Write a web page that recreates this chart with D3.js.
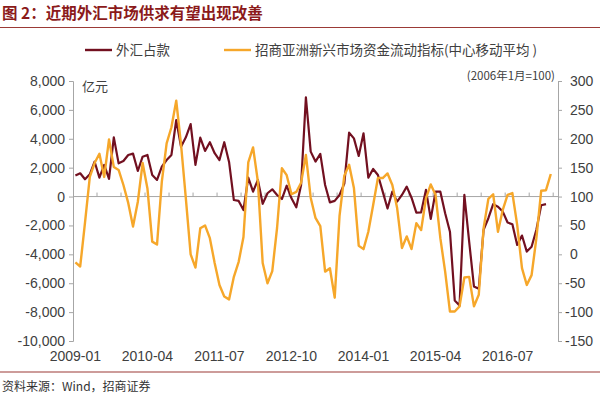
<!DOCTYPE html>
<html><head><meta charset="utf-8">
<script src="https://cdn.jsdelivr.net/npm/d3@7/dist/d3.min.js"></script>
<style>
html,body{margin:0;padding:0;background:#fff;}
svg{display:block;}
</style></head>
<body>
<svg id="c" width="600" height="397"></svg>
<script>
const categories = [
"2009-01","2009-02","2009-03","2009-04","2009-05","2009-06","2009-07","2009-08","2009-09","2009-10","2009-11","2009-12",
"2010-01","2010-02","2010-03","2010-04","2010-05","2010-06","2010-07","2010-08","2010-09","2010-10","2010-11","2010-12",
"2011-01","2011-02","2011-03","2011-04","2011-05","2011-06","2011-07","2011-08","2011-09","2011-10","2011-11","2011-12",
"2012-01","2012-02","2012-03","2012-04","2012-05","2012-06","2012-07","2012-08","2012-09","2012-10","2012-11","2012-12",
"2013-01","2013-02","2013-03","2013-04","2013-05","2013-06","2013-07","2013-08","2013-09","2013-10","2013-11","2013-12",
"2014-01","2014-02","2014-03","2014-04","2014-05","2014-06","2014-07","2014-08","2014-09","2014-10","2014-11","2014-12",
"2015-01","2015-02","2015-03","2015-04","2015-05","2015-06","2015-07","2015-08","2015-09","2015-10","2015-11","2015-12",
"2016-01","2016-02","2016-03","2016-04","2016-05","2016-06","2016-07","2016-08","2016-09","2016-10","2016-11","2016-12",
"2017-01","2017-02","2017-03","2017-04","2017-05"];

// 外汇占款 (亿元), left axis
const fxFunds = [
1450,1610,1200,1540,2410,1310,2190,1220,4100,2300,2460,2880,
2970,1770,2760,2880,1490,1150,2070,2530,2880,5300,3450,4100,
5020,2190,4080,3160,3760,3000,2530,3760,2400,-240,-300,-930,
1310,340,1150,-500,230,500,110,-170,750,-120,-740,800,
6870,3110,2420,2950,800,-400,-300,110,900,4420,4030,2810,
4380,1310,1910,1490,340,-830,340,-350,110,690,-80,-1110,
-1090,460,-1550,340,340,-1160,-2430,-7200,-7550,110,-3120,-6230,
-6390,-2310,-1500,-530,-700,-1040,-1800,-1920,-3350,-2700,-3810,-3470,
-2300,-600,-520];

// 招商亚洲新兴市场资金流动指标 (2006年1月=100), right axis
const emIndex = [
-14,-21,55,134,158,174,134,199,151,146,120,89,
48,91,158,114,22,17,126,192,220,266,190,97,
0,-23,45,50,28,-15,-53,-73,-78,-39,-13,30,
159,185,126,-15,-50,-29,46,149,137,104,108,124,
172,98,63,49,-30,-24,-75,66,136,155,115,15,
9,39,85,132,132,140,120,80,11,31,9,54,
42,97,121,103,28,-30,-99,-99,-90,-40,-39,-90,
-70,45,96,104,39,77,103,106,51,-24,-53,-36,
28,110,111,139];

const leftTicks = [8000,6000,4000,2000,0,-2000,-4000,-6000,-8000,-10000];
const rightTicks = [300,250,200,150,100,50,0,-50,-100,-150];
const xLabels = ["2009-01","2010-04","2011-07","2012-10","2014-01","2015-04","2016-07"];
const seriesNames = ["外汇占款","招商亚洲新兴市场资金流动指标(中心移动平均 )"];

const svg = d3.select("#c");
const W = 600, H = 397;
const plot = {left:73, right:558, top:81, bottom:341};
const maroon = "#721020", orange = "#F6A72A";
const txt = "#404040";
const loc = d3.formatLocale({decimal:".", thousands:",", grouping:[3], currency:["",""], minus:"-"});
const fmt = loc.format(",");

// title
svg.append("text").attr("x",2).attr("y",19)
  .attr("font-family","'Noto Sans CJK SC', sans-serif").attr("font-weight","bold")
  .attr("font-size",15.5).attr("fill","#8B1A1A")
  .text("图 2：近期外汇市场供求有望出现改善");
svg.append("line").attr("x1",0).attr("x2",W).attr("y1",27.5).attr("y2",27.5)
  .attr("stroke","#9B3A36").attr("stroke-width",1.2);
svg.append("line").attr("x1",0).attr("x2",W).attr("y1",372).attr("y2",372)
  .attr("stroke","#9B3A36").attr("stroke-width",1.2);
svg.append("text").attr("x",2).attr("y",391)
  .attr("font-family","'Noto Sans CJK SC', sans-serif")
  .attr("font-size",12).attr("fill","#333")
  .text("资料来源：Wind，招商证券");

// scales
const x = d3.scaleBand().domain(categories).range([plot.left, plot.right]).paddingInner(0).paddingOuter(0);
const bw = x.bandwidth();
const cx = c => x(c) + bw/2;
const yL = d3.scaleLinear().domain([-10000, 8000]).range([plot.bottom, plot.top]);
const yR = d3.scaleLinear().domain([-150, 300]).range([plot.bottom, plot.top]);

// left axis
const gL = svg.append("g").attr("transform",`translate(${plot.left},0)`)
  .call(d3.axisLeft(yL).tickValues(leftTicks).tickFormat(fmt).tickSize(4).tickPadding(4));
gL.select(".domain").attr("stroke","#A6A6A6");
gL.selectAll(".tick line").attr("stroke","#A6A6A6");
gL.selectAll("text").attr("font-family","'Liberation Sans', Arial, sans-serif")
  .attr("font-size",14).attr("fill",txt);

// right axis
const gR = svg.append("g").attr("transform",`translate(${plot.right},0)`)
  .call(d3.axisRight(yR).tickValues(rightTicks).tickFormat(fmt).tickSize(4).tickPadding(8));
gR.select(".domain").attr("stroke","#A6A6A6");
gR.selectAll(".tick line").attr("stroke","#A6A6A6");
gR.selectAll("text").attr("font-family","'Liberation Sans', Arial, sans-serif")
  .attr("font-size",14).attr("fill",txt)
  .attr("dx", d => d < 0 ? -5 : 0);

// zero line (category axis)
svg.append("line").attr("x1",plot.left).attr("x2",plot.right)
  .attr("y1",yL(0)).attr("y2",yL(0)).attr("stroke","#A6A6A6").attr("stroke-width",1);
const tickCats = categories.filter((c,i)=> i>0 && i%5===0);
svg.append("g").selectAll("line").data(tickCats).join("line")
  .attr("x1",d=>x(d)).attr("x2",d=>x(d))
  .attr("y1",yL(0)).attr("y2",yL(0)-4).attr("stroke","#A6A6A6");
svg.append("g").selectAll("text").data(xLabels).join("text")
  .attr("x",d=>cx(d)).attr("y",361).attr("text-anchor","middle")
  .attr("font-family","'Liberation Sans', Arial, sans-serif")
  .attr("font-size",14).attr("fill",txt).text(d=>d);

// unit labels
svg.append("text").attr("x",82).attr("y",91)
  .attr("font-family","'Noto Sans CJK SC', sans-serif").attr("font-size",13).attr("fill",txt).text("亿元");
svg.append("text").attr("x",555).attr("y",80).attr("text-anchor","end")
  .attr("font-family","'Noto Sans CJK SC', sans-serif").attr("font-size",11.5).attr("fill",txt).text("(2006年1月=100)");

// lines
const lineL = d3.line().x((d,i)=>cx(categories[i])).y(d=>yL(d));
const lineR = d3.line().x((d,i)=>cx(categories[i])).y(d=>yR(d));
svg.append("path").datum(fxFunds).attr("d",lineL).attr("fill","none")
  .attr("stroke",maroon).attr("stroke-width",2.2).attr("stroke-linejoin","round");
svg.append("path").datum(emIndex).attr("d",lineR).attr("fill","none")
  .attr("stroke",orange).attr("stroke-width",2.4).attr("stroke-linejoin","round");

// legend
const leg = [{name:seriesNames[0], color:maroon, x:85},{name:seriesNames[1], color:orange, x:224}];
const lg = svg.append("g").selectAll("g").data(leg).join("g");
lg.append("line").attr("x1",d=>d.x).attr("x2",d=>d.x+27).attr("y1",50).attr("y2",50)
  .attr("stroke",d=>d.color).attr("stroke-width",2.4);
lg.append("text").attr("x",d=>d.x+31).attr("y",55)
  .attr("font-family","'Noto Sans CJK SC', sans-serif").attr("font-size",13.5).attr("fill",txt)
  .text(d=>d.name);
</script>
</body></html>
